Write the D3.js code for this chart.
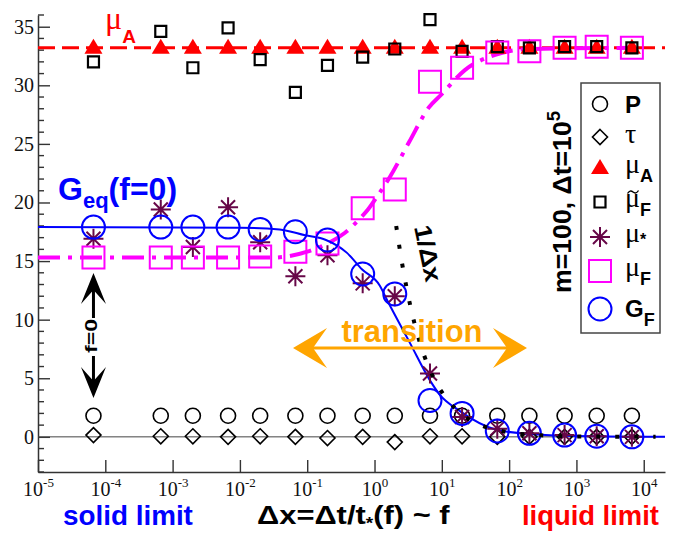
<!DOCTYPE html>
<html>
<head>
<meta charset="utf-8">
<script src="https://cdn.jsdelivr.net/npm/d3@7"></script>
<style>
  body { margin: 0; background: #fff; }
  svg { display: block; }
</style>
</head>
<body>
<svg id="chart" width="693" height="533"></svg>
<script>
// ---- data ----------------------------------------------------------
const dx = [6.67e-5, 6.67e-4, 2e-3, 6.67e-3, 2e-2, 6.67e-2, 0.2, 0.667,
            2, 6.67, 20, 66.7, 200, 667, 2000, 6667];

const pVals       = [1.8, 1.8, 1.8, 1.8, 1.8, 1.8, 1.8, 1.8, 1.8, 1.8, 1.8, 1.8, 1.8, 1.8, 1.8, 1.8];
const tauVals     = [0.15, 0.05, 0.05, 0.0, 0.05, 0.0, -0.1, 0.0, -0.45, 0.05, 0.05, 0.0, 0.0, 0.0, 0.0, 0.0];
const muAVals     = [33.2, 33.2, 33.2, 33.2, 33.2, 33.2, 33.2, 33.2, 33.2, 33.2, 33.2, 33.2, 33.2, 33.2, 33.2, 33.2];
const muTildeVals = [32.0, 34.6, 31.5, 34.9, 32.2, 29.4, 31.7, 32.4, 33.1, 35.6, 32.9, 33.3, 33.2, 33.3, 33.3, 33.2];
const muStarVals  = [16.9, 19.4, 16.2, 19.6, 16.6, 13.7, 15.5, 13.1, 12.0, 5.4, 1.7, 0.7, 0.3, 0.15, 0.05, 0.0];
const muFVals     = [15.3, 15.3, 15.3, 15.3, 15.4, 15.8, 16.5, 19.5, 21.1, 30.3, 31.5, 32.8, 32.9, 33.2, 33.3, 33.2];
const gFVals      = [17.9, 17.9, 17.9, 17.9, 17.7, 17.5, 16.8, 13.9, 12.2, 3.1, 2.0, 0.5, 0.3, 0.15, 0.05, 0.0];

// mu_A plateau (dashed line)
const muALevel = 33.2;

// mu_F fit (dash-dot)
const muFFitX = [1e-5, 0.03, 0.1, 0.2, 0.36, 0.6, 0.8, 1.12, 1.7, 3.3, 6.4, 9.8, 22, 62, 200, 6667];
const muFFitY = [15.3, 15.3, 15.8, 16.5, 17.4, 18.6, 19.4, 20.6, 22.2, 25.2, 28.1, 29.2, 31.3, 32.6, 33.1, 33.2];

// G_F fit (solid)
const gFitX = [1e-5, 0.01, 0.039, 0.093, 0.19, 0.39, 0.65, 1.2, 1.53, 3.37, 6.7, 9.3, 18.6, 65, 200, 700, 2.07e4];
const gFitY = [17.9, 17.85, 17.7, 17.2, 16.8, 15.7, 14.3, 12.9, 11.7, 8.0, 4.8, 3.6, 2.2, 0.6, 0.25, 0.1, 0.0];

// 1/dx tail (dotted)
const invX = [2.1, 2.5, 3, 4, 5.5, 8, 12, 20, 40, 100, 300, 1000, 1.5e4];
const invY = [18.0, 15.2, 12.7, 9.5, 6.9, 4.75, 3.2, 1.9, 0.95, 0.38, 0.13, 0.04, 0.0];

const xTicks = [1e-5, 1e-4, 1e-3, 1e-2, 1e-1, 1e0, 1e1, 1e2, 1e3, 1e4];
const yTicks = [0, 5, 10, 15, 20, 25, 30, 35];

// ---- setup ---------------------------------------------------------
const SANS = "'Liberation Sans', Arial, Helvetica, sans-serif";
const SERIF = "'Liberation Serif', 'Times New Roman', serif";
const MAROON = '#670748';
const ORANGE = '#ffa500';

const svg = d3.select('#chart');
const x = d3.scaleLog().domain([1e-5, 2.07e4]).range([38, 665]);
const y = d3.scaleLinear().domain([-3, 36]).range([472, 15]);

const pts = vals => dx.map((d, i) => ({ x: d, y: vals[i] }));
const zip = (xs, ys) => xs.map((d, i) => ({ x: d, y: ys[i] }));
const line = d3.line().x(d => x(d.x)).y(d => y(d.y)).curve(d3.curveMonotoneX);

// ---- axes ----------------------------------------------------------
const gx = svg.append('g')
  .attr('transform', `translate(0,${y(-3)})`)
  .call(d3.axisBottom(x).tickValues(xTicks).tickSize(-12).tickSizeOuter(0)
          .tickPadding(10).tickFormat(() => ''));
gx.selectAll('.tick text').each(function (d) {
  const t = d3.select(this);
  const e = Math.round(Math.log10(d));
  t.attr('font-family', SERIF).attr('font-size', 20).attr('fill', '#111');
  t.append('tspan').text('10');
  t.append('tspan').attr('font-size', 13).attr('dy', -9).text(String(e));
});

const gy = svg.append('g')
  .attr('transform', `translate(${x(1e-5)},0)`)
  .call(d3.axisLeft(y).tickValues(yTicks).tickSize(-12).tickSizeOuter(0)
          .tickPadding(4));
gy.selectAll('.tick text').attr('font-family', SERIF).attr('font-size', 20).attr('fill', '#111');

// minor y ticks
gy.selectAll('.minor')
  .data(d3.range(-3, 37).filter(v => v % 5 !== 0))
  .join('line')
  .attr('class', 'minor')
  .attr('x1', 0).attr('x2', 6)
  .attr('y1', d => y(d)).attr('y2', d => y(d));

[gx, gy].forEach(g => {
  g.select('.domain').attr('stroke', '#333').attr('stroke-width', 1.5);
  g.selectAll('.tick line, line.minor').attr('stroke', '#333').attr('stroke-width', 1.4);
});

// ---- reference lines and fits -------------------------------------
svg.append('line')
  .attr('x1', x(1e-5)).attr('x2', x(2.07e4))
  .attr('y1', y(0)).attr('y2', y(0))
  .attr('stroke', '#444').attr('stroke-width', 1);

svg.append('line')
  .attr('x1', x(1e-5)).attr('x2', x(2.07e4))
  .attr('y1', y(muALevel)).attr('y2', y(muALevel))
  .attr('stroke', '#ff0000').attr('stroke-width', 3)
  .attr('stroke-dasharray', '17,7');

svg.append('path')
  .attr('d', line(zip(muFFitX, muFFitY)))
  .attr('fill', 'none').attr('stroke', '#ff00ff').attr('stroke-width', 4)
  .attr('stroke-dasharray', '22,8,4,8');

svg.append('path')
  .attr('d', line(zip(gFitX, gFitY)))
  .attr('fill', 'none').attr('stroke', '#0000ff').attr('stroke-width', 2);

// ---- symbols -------------------------------------------------------
const shapes = {
  circleS: 'M7.5,0A7.5,7.5 0 1,1 -7.5,0A7.5,7.5 0 1,1 7.5,0Z',
  diamond: 'M0,-7.5L7.5,0L0,7.5L-7.5,0Z',
  triangle: 'M0,-9L9,6L-9,6Z',
  squareS: 'M-5.5,-5.5H5.5V5.5H-5.5Z',
  squareL: 'M-11,-11H11V11H-11Z',
  star: 'M0,-10V10M-10,0H10M-7,-7L7,7M-7,7L7,-7',
  circleL: 'M11.5,0A11.5,11.5 0 1,1 -11.5,0A11.5,11.5 0 1,1 11.5,0Z'
};

const series = [
  { key: 'P',     vals: pVals,       shape: 'circleS',  stroke: '#000',    fill: 'none',    sw: 1.6 },
  { key: 'tau',   vals: tauVals,     shape: 'diamond',  stroke: '#000',    fill: 'none',    sw: 1.6 },
  { key: 'muA',   vals: muAVals,     shape: 'triangle', stroke: 'none',    fill: '#ff0000', sw: 0 },
  { key: 'muT',   vals: muTildeVals, shape: 'squareS',  stroke: '#000',    fill: 'none',    sw: 2.2 },
  { key: 'muS',   vals: muStarVals,  shape: 'star',     stroke: MAROON,    fill: 'none',    sw: 2 },
  { key: 'muF',   vals: muFVals,     shape: 'squareL',  stroke: '#ff00ff', fill: 'none',    sw: 2 },
  { key: 'GF',    vals: gFVals,      shape: 'circleL',  stroke: '#0000ff', fill: 'none',    sw: 2 }
];

series.forEach(s => {
  svg.append('g').attr('class', 'set-' + s.key)
    .selectAll('path')
    .data(pts(s.vals))
    .join('path')
    .attr('transform', d => `translate(${x(d.x)},${y(d.y)})`)
    .attr('d', shapes[s.shape])
    .attr('fill', s.fill)
    .attr('stroke', s.stroke)
    .attr('stroke-width', s.sw);
});

// 1/dx dotted tail
svg.append('path')
  .attr('d', line(zip(invX, invY)))
  .attr('fill', 'none').attr('stroke', '#000').attr('stroke-width', 4)
  .attr('stroke-dasharray', '4,15');

// ---- text helper ---------------------------------------------------
function label(opts, build) {
  const g = svg.append('g');
  const t = g.append('text').attr('text-anchor', opts.anchor || 'start')
    .attr('fill', opts.fill || '#000');
  build(t);
  let sx = 1;
  if (opts.width) sx = opts.width / t.node().getBBox().width;
  g.attr('transform', `translate(${opts.x},${opts.y}) rotate(${opts.rot || 0}) scale(${sx},1)`);
  return g;
}
const span = (t, txt, fam, size, bold, dy) => {
  const s = t.append('tspan').attr('font-family', fam).attr('font-size', size).text(txt);
  if (bold) s.attr('font-weight', 'bold');
  if (dy) s.attr('dy', dy);
  return s;
};

// mu_A label near the plateau
label({ x: 105, y: 29, fill: '#ff0000' }, t => {
  span(t, 'μ', SERIF, 32, false);
  span(t, 'A', SANS, 19, true, 14);
});

// G_eq(f=0)
label({ x: 58, y: 200, fill: '#0000ff' }, t => {
  span(t, 'G', SANS, 32, true);
  span(t, 'eq', SANS, 22, true, 8);
  span(t, '(f=0)', SANS, 32, true, -8);
});

// f=0 with vertical arrows
label({ x: 97, y: 336, rot: -90, anchor: 'middle', width: 34 }, t => {
  span(t, 'f=0', SANS, 17, true);
});
const head = 'M0,0L-31,-12.5L-17,0L-31,12.5Z';
svg.append('line').attr('x1', x(6.67e-5)).attr('x2', x(6.67e-5))
  .attr('y1', 318).attr('y2', 290).attr('stroke', '#000').attr('stroke-width', 3);
svg.append('path').attr('d', head)
  .attr('transform', `translate(${x(6.67e-5)},273) rotate(-90)`).attr('fill', '#000');
svg.append('line').attr('x1', x(6.67e-5)).attr('x2', x(6.67e-5))
  .attr('y1', 356).attr('y2', 382).attr('stroke', '#000').attr('stroke-width', 3);
svg.append('path').attr('d', head)
  .attr('transform', `translate(${x(6.67e-5)},398) rotate(90)`).attr('fill', '#000');

// 1/dx label
label({ x: 420, y: 255, rot: 78, anchor: 'middle', width: 58 }, t => {
  span(t, '1/Δx', SANS, 24, true);
});

// transition double arrow
const ohead = 'M0,0L-34,-20L-20,0L-34,20Z';
svg.append('line').attr('x1', 310).attr('x2', 510).attr('y1', 348).attr('y2', 348)
  .attr('stroke', ORANGE).attr('stroke-width', 3);
svg.append('path').attr('d', ohead).attr('transform', 'translate(527,348)').attr('fill', ORANGE);
svg.append('path').attr('d', ohead).attr('transform', 'translate(293,348) rotate(180)').attr('fill', ORANGE);
label({ x: 412, y: 342, anchor: 'middle', width: 141, fill: ORANGE }, t => {
  span(t, 'transition', SANS, 31, true);
});

// run parameters
label({ x: 571, y: 202, rot: -90, anchor: 'middle', width: 182 }, t => {
  span(t, 'm=100, Δt=10', SANS, 26, true);
  span(t, '5', SANS, 18, true, -11);
});

// bottom captions
label({ x: 63, y: 525, width: 130, fill: '#0000ff' }, t => {
  span(t, 'solid limit', SANS, 27, true);
});
label({ x: 257, y: 524, width: 193 }, t => {
  span(t, 'Δx=Δt/t', SANS, 26, true);
  span(t, '*', SANS, 16, true, 5);
  span(t, '(f) ~ f', SANS, 26, true, -5);
});
label({ x: 522, y: 525, width: 137, fill: '#ff0000' }, t => {
  span(t, 'liquid limit', SANS, 27, true);
});

// ---- legend --------------------------------------------------------
svg.append('rect')
  .attr('x', 581).attr('y', 83).attr('width', 79).attr('height', 250)
  .attr('fill', '#fff').attr('stroke', '#444').attr('stroke-width', 1.5);

const legendRows = [104, 137, 168, 202, 237, 271, 309];
series.forEach((s, i) => {
  svg.append('path')
    .attr('transform', `translate(600,${legendRows[i]})`)
    .attr('d', shapes[s.shape])
    .attr('fill', s.fill).attr('stroke', s.stroke).attr('stroke-width', s.sw);
});

const lx = 625;
label({ x: lx, y: legendRows[0] + 9 }, t => span(t, 'P', SANS, 24, true));
label({ x: lx, y: legendRows[1] + 6 }, t => span(t, 'τ', SERIF, 28, false));
label({ x: lx, y: legendRows[2] + 5 }, t => {
  span(t, 'μ', SERIF, 28, false);
  span(t, 'A', SANS, 18, true, 9);
});
label({ x: lx, y: legendRows[3] + 5 }, t => {
  span(t, 'μ', SERIF, 28, false);
  span(t, 'F', SANS, 18, true, 9);
});
// tilde accent over the second mu
svg.append('path')
  .attr('transform', `translate(${lx + 8},${legendRows[3] - 10})`)
  .attr('d', 'M-5.5,1.5Q-3,-2.5 0,0T5.5,-1.5')
  .attr('fill', 'none').attr('stroke', '#000').attr('stroke-width', 1.4);
label({ x: lx, y: legendRows[4] + 5 }, t => {
  span(t, 'μ', SERIF, 28, false);
  span(t, '*', SANS, 16, true, 3);
});
label({ x: lx, y: legendRows[5] + 5 }, t => {
  span(t, 'μ', SERIF, 28, false);
  span(t, 'F', SANS, 18, true, 9);
});
label({ x: lx, y: legendRows[6] + 8 }, t => {
  span(t, 'G', SANS, 24, true);
  span(t, 'F', SANS, 18, true, 9);
});
</script>
</body>
</html>
